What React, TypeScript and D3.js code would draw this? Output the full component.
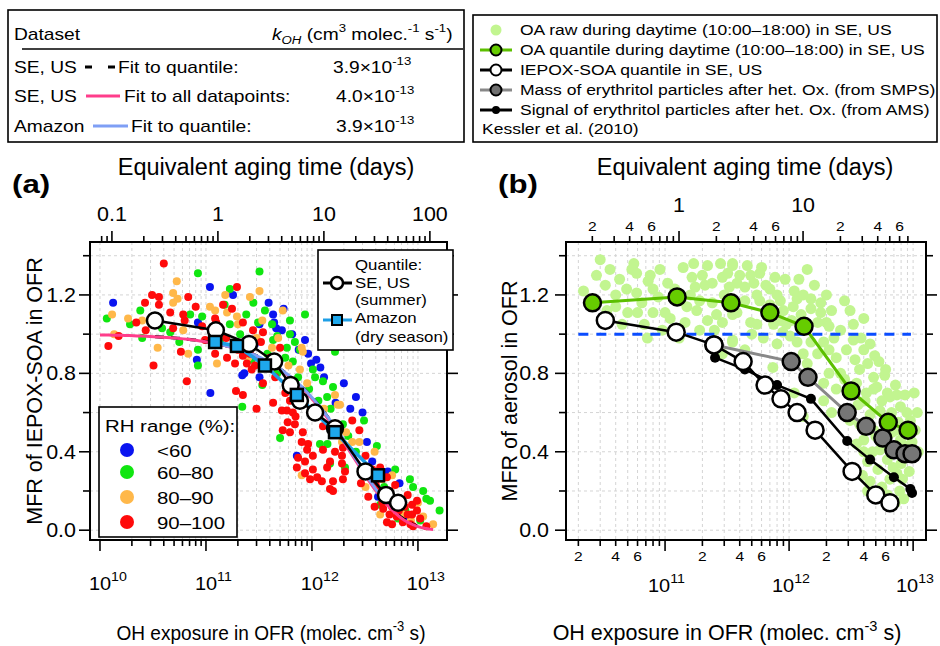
import * as d3 from "d3";

type Pt = [number, number];

const FONT = "'Liberation Sans', Arial, Helvetica, sans-serif";
const SX = 1.2; // the legend lettering is wider than plain Arial

const OH_CONC = 1.5e6; // molec. cm-3, used for the "equivalent aging time" axis
const SEC_PER_DAY = 86400;

// ---------- panel (a): IEPOX-SOA MFR vs OH exposure, by RH range ----------
const rhUnder60: Pt[] = [
  [1.33e10, 1.16], [1.09e11, 1.24], [8.4e10, 1.06], [3.9e11, 1.16], [3.2e11, 1.05], [8.2e10, 0.87],
  [1.1e11, 0.7], [2.2e11, 0.79], [2.3e11, 0.8], [3.2e11, 0.78], [4.6e11, 1.03], [5.2e11, 1.02],
  [5.4e11, 1.13], [8.6e11, 0.97], [9.2e11, 0.9], [1.1e12, 0.87], [1.2e12, 0.83], [1.67e12, 0.65],
  [7.2e11, 0.38], [3.7e12, 0.35], [4.2e12, 0.17], [6.7e12, 0.24], [7.3e12, 0.06], [2.0e12, 0.75],
  [2.6e12, 0.68], [3.0e12, 0.6], [1.3e12, 0.78], [2.9e11, 0.95], [1.8e11, 1.2], [4.3e11, 1.1],
  [6.5e11, 1.0], [7.5e11, 0.92], [2.3e12, 0.62], [3.3e12, 0.45], [5.2e12, 0.3], [4.4e11, 1.06],
  [9.8e11, 0.85],
];
const rh60to80: Pt[] = [
  [8.4e10, 1.31], [1.16e10, 1.08], [2.5e10, 0.98], [8.4e10, 0.92], [8.4e10, 0.84], [7.1e10, 1.1],
  [4.6e10, 1.01], [3.85e10, 1.03], [9.2e10, 1.09], [1.68e11, 1.05], [3.1e11, 1.06], [2.7e11, 0.87],
  [3.4e11, 0.74], [2.2e11, 0.63], [4.7e11, 0.8], [4.3e11, 0.97], [3.8e11, 0.9], [4.7e11, 0.99],
  [2.8e11, 1.16], [3.2e11, 1.32], [5.0e11, 0.47], [1.19e12, 0.44], [1.4e12, 0.44], [1.48e12, 0.34],
  [2.05e12, 0.32], [1.96e12, 0.54], [4.1e12, 0.43], [9.0e12, 0.22], [1.2e13, 0.16], [6.5e12, 0.06],
  [4.4e12, 0.13], [6.2e11, 1.0], [6.9e11, 0.96], [5.8e11, 0.93], [7.7e11, 0.92], [1.02e12, 0.82],
  [1.27e12, 0.76], [1.58e12, 0.73], [1.07e12, 0.78], [1.39e12, 0.68], [8.6e11, 1.1], [6.2e11, 1.07],
  [1.65e12, 0.91], [1.68e11, 1.23], [1.92e10, 1.05], [1.36e11, 0.97], [6.1e12, 0.31], [8.4e12, 0.26],
  [1.3e13, 0.15], [3.1e12, 0.56], [1.5e11, 1.15], [2.1e11, 1.0], [2.4e11, 1.1], [3.6e11, 1.12],
  [4.2e11, 1.05], [5.6e11, 0.88], [6.6e11, 0.86], [7.4e11, 0.78], [9.4e11, 0.72], [1.15e12, 0.66],
  [1.5e12, 0.62], [2.2e12, 0.48], [2.6e12, 0.4], [3.4e12, 0.3], [4.8e12, 0.22], [5.6e12, 0.16],
  [7.6e12, 0.1], [1.05e13, 0.05], [1.12e13, 0.2], [1.6e13, 0.1], [2.4e10, 1.12], [5.6e10, 0.96],
];
const rh80to90: Pt[] = [
  [5.3e10, 1.27], [4.9e10, 1.21], [5.4e10, 1.18], [4.9e10, 1.16], [1.84e10, 1.08], [2.5e10, 1.07],
  [1.36e10, 1.0], [3.5e10, 0.93], [6.1e10, 1.02], [1.09e11, 1.14], [1.22e11, 1.12], [1.58e11, 1.11],
  [1.96e11, 1.09], [2.6e11, 1.19], [2.0e11, 1.05], [1.27e11, 0.85], [2.5e11, 0.88], [4.2e11, 0.93],
  [1.84e12, 0.64], [2.8e12, 0.45], [2.4e12, 0.45], [1.92e12, 0.45], [8.0e11, 0.28], [3.9e12, 0.4],
  [5.7e12, 0.28], [1.12e13, 0.07], [1.39e13, 0.03], [4.4e12, 0.08], [6.1e12, 0.1], [8.0e11, 0.93],
  [8.2e11, 0.91], [1.65e12, 0.69], [1.75e12, 0.64], [3.4e11, 1.07], [5.3e11, 1.12], [1.52e11, 1.2],
  [6.8e12, 0.13], [4.9e12, 0.18], [7.7e11, 0.82], [3.2e11, 1.22], [1.35e11, 1.0], [2.2e11, 0.95],
  [3.0e11, 0.98], [4.8e11, 0.98], [6.0e11, 0.84], [9.0e11, 0.75], [1.3e12, 0.62], [2.1e12, 0.5],
  [3.2e12, 0.22], [4.6e12, 0.26], [7.2e12, 0.08], [8.6e12, 0.05], [1.0e13, 0.14], [1.3e10, 1.1],
  [6.8e10, 0.9],
];
const rh90to100: Pt[] = [
  [4.0e10, 1.36], [3.1e10, 1.2], [3.6e10, 1.19], [2.66e10, 1.16], [3.6e10, 1.15], [6.8e10, 1.19],
  [2.2e10, 1.06], [2.7e10, 1.02], [1.2e10, 0.94], [3.2e10, 0.84], [5.8e10, 0.91], [6.6e10, 0.76],
  [4.6e10, 1.11], [6.1e10, 1.1], [4.9e10, 1.03], [6.3e10, 1.07], [9.2e10, 1.04], [1.45e11, 1.15],
  [1.76e11, 1.13], [1.96e11, 1.24], [2.23e11, 1.06], [2.78e11, 1.02], [9.8e10, 0.97], [1.22e11, 0.9],
  [1.58e11, 0.88], [1.88e11, 0.85], [2.43e11, 0.85], [2.23e11, 0.89], [2.9e11, 0.84], [2.7e11, 0.82],
  [3.45e11, 0.75], [1.92e11, 0.71], [2.23e11, 0.69], [4.3e11, 0.65], [3.0e11, 0.62], [5.0e11, 0.93],
  [3.45e11, 1.01], [2.78e11, 0.94], [1.22e11, 1.08], [1.25e11, 1.06],
  [5.8e11, 0.61], [6.6e11, 0.6], [5.9e11, 0.55], [5.3e11, 0.51], [6.9e11, 0.54], [8.2e11, 0.5],
  [9.2e11, 0.44], [9.0e11, 0.41], [7.4e11, 0.37], [7.2e11, 0.32], [8.6e11, 0.35], [1.02e12, 0.31],
  [9.6e11, 0.26], [1.24e12, 0.25], [1.48e12, 0.21], [1.58e12, 0.25], [1.96e12, 0.26], [2.05e12, 0.3],
  [1.92e12, 0.34], [1.92e12, 0.38], [1.48e12, 0.35], [1.27e12, 0.41], [1.02e12, 0.38], [1.39e12, 0.32],
  [1.12e12, 0.27], [8.6e11, 0.29], [1.58e12, 0.2], [6.2e11, 0.5], [5.2e11, 0.61], [1.96e12, 0.42],
  [1.27e12, 0.53], [1.65e12, 0.4],
  [3.4e12, 0.17], [4.4e12, 0.32], [5.1e12, 0.27], [5.4e12, 0.2], [6.1e12, 0.23], [4.7e12, 0.11],
  [5.7e12, 0.12], [6.8e12, 0.15], [8.0e12, 0.18], [8.8e12, 0.13], [8.8e12, 0.08], [6.3e12, 0.07],
  [7.2e12, 0.04], [9.0e12, 0.02], [5.7e12, 0.03], [9.8e12, 0.1], [9.8e12, 0.15], [8.0e12, 0.08],
  [5.1e12, 0.17], [5.1e12, 0.04], [6.1e12, 0.15], [2.4e12, 0.56], [2.8e12, 0.51], [3.2e12, 0.38],
  [3.7e12, 0.31], [4.0e12, 0.23], [1.55e11, 0.98], [2.0e11, 0.92], [2.6e11, 0.9], [3.3e11, 0.96],
  [4.0e11, 0.88], [4.5e11, 0.78], [5.6e11, 0.7], [6.2e11, 0.66], [7.0e11, 0.58], [8.0e11, 0.45],
  [4.6e12, 0.14], [5.4e12, 0.08], [6.6e12, 0.1], [7.5e12, 0.12], [8.5e12, 0.03], [1.05e13, 0.06],
  [3.9e12, 0.12], [4.4e12, 0.2], [1.2e13, 0.02], [2.9e12, 0.24], [8.0e10, 1.14], [1.5e10, 0.99],
];
const seUsQuantile: Pt[] = [
  [3.3e10, 1.07], [1.24e11, 1.02], [2.55e11, 0.95], [4.4e11, 0.86], [6.3e11, 0.74], [7.7e11, 0.66],
  [1.07e12, 0.6], [1.65e12, 0.52], [3.2e12, 0.3], [5.0e12, 0.18], [6.5e12, 0.14],
];
const amazonQuantile: Pt[] = [
  [1.22e11, 0.96], [1.96e11, 0.94], [3.6e11, 0.84], [7.2e11, 0.69], [1.65e12, 0.5], [4.2e12, 0.28],
];
// exponential fits, MFR = exp(-kOH * exposure), with the range each one is drawn over
const fitNames = ["SE, US", "SE, US", "Amazon"];
const fitLabels = ["Fit to quantile:", "Fit to all datapoints:", "Fit to quantile:"];
const fitK = [3.9e-13, 4.0e-13, 3.9e-13];
const fitKText = ["3.9", "4.0", "3.9"];
const fitRange: Pt[] = [[3.3e10, 9.8e12], [1.0e10, 1.39e13], [1.22e11, 4.2e12]];

const rhLabels = ["<60", "60–80", "80–90", "90–100"];
const rhColors = ["#0a14f0", "#10e610", "#ffb84a", "#ff0a0a"];

// ---------- panel (b): aerosol MFR vs OH exposure ----------
const oaRaw: Pt[] = [
  [3.0e10, 1.38], [5.6e10, 1.36], [5.4e10, 1.33], [5.9e10, 1.31], [7.3e10, 1.27], [4.0e10, 1.2],
  [4.9e10, 1.23], [5.9e10, 1.21], [6.5e10, 1.16], [8.0e10, 1.23], [8.8e10, 1.19], [5.0e10, 1.11],
  [6.0e10, 1.11], [8.0e10, 1.11], [1.0e11, 1.11], [1.1e11, 1.08], [1.4e11, 1.34], [1.7e11, 1.36],
  [2.2e11, 1.35], [2.8e11, 1.36], [3.5e11, 1.35], [1.65e11, 1.29], [2.1e11, 1.25], [2.4e11, 1.26],
  [2.9e11, 1.29], [3.2e11, 1.31], [1.5e11, 1.14], [1.8e11, 1.12], [2.2e11, 1.07], [2.9e11, 1.06],
  [3.5e11, 1.1], [7.2e10, 0.98], [1.3e11, 0.98], [3.5e11, 0.96], [4.0e10, 1.14],
  [3.5e11, 1.36], [6.0e11, 1.34], [5.8e11, 1.31], [1.4e12, 1.33], [7.7e11, 1.29], [9.3e11, 1.28],
  [3.8e11, 1.26], [4.4e11, 1.24], [7.0e11, 1.23], [1.1e12, 1.22], [1.16e12, 1.18], [1.3e12, 1.2],
  [1.5e12, 1.18], [1.8e12, 1.16], [1.08e12, 1.14], [1.5e12, 1.13], [1.8e12, 1.11], [2.0e12, 1.06],
  [2.1e12, 1.04], [3.8e11, 1.11], [4.9e11, 1.06], [8.5e11, 1.07], [8.9e11, 1.01], [1.02e12, 0.99],
  [1.16e12, 0.96], [1.5e12, 0.96], [1.9e12, 0.96], [2.1e12, 0.92], [4.0e12, 1.08], [5.0e11, 1.0],
  [6.2e11, 0.98], [3.5e11, 0.97], [4.0e12, 0.92], [4.3e12, 0.85], [3.7e12, 0.82], [4.8e12, 0.78],
  [5.1e12, 0.73], [6.2e12, 0.7], [7.4e12, 0.69], [1.9e12, 0.75], [2.1e12, 0.8], [7.4e11, 0.83],
  [1.3e12, 0.9], [2.4e12, 0.72],
  [4.8e12, 0.72], [6.5e12, 0.68], [7.9e12, 0.63], [8.9e12, 0.6], [4.8e12, 0.51], [4.0e12, 0.4],
  [4.3e12, 0.35], [6.2e12, 0.36], [6.9e12, 0.32], [7.4e12, 0.29], [8.2e12, 0.26], [4.5e12, 0.25],
  [4.3e12, 0.2], [7.2e12, 0.14], [1.3e12, 0.58], [4.0e12, 0.46],
  [5.4e12, 0.61], [5.9e12, 0.56], [7.2e12, 0.51], [7.9e12, 0.46], [5.4e12, 0.41], [8.6e12, 0.43],
  [5.2e12, 0.31], [6.5e12, 0.26], [9.5e12, 0.56], [1.04e13, 0.51], [3.6e12, 0.64], [3.1e12, 0.56],
  [2.8e12, 0.77], [3.4e12, 0.87], [2.6e12, 1.02], [2.8e12, 1.17], [3.3e12, 0.97], [4.9e12, 0.89],
  [4.1e12, 0.66], [5.9e12, 0.79], [7.2e12, 0.74], [8.6e12, 0.69], [4.5e12, 0.59], [3.7e12, 0.54],
  [9.1e10, 1.33], [1.9e11, 1.17], [4.4e11, 1.17], [5.8e11, 1.17], [7.0e11, 1.15], [8.5e11, 1.17],
  [1.9e11, 1.02], [2.5e11, 1.02], [4.4e11, 0.92], [2.5e10, 1.17], [3.3e10, 1.25], [4.3e10, 1.28],
  [1.2e11, 1.23], [1.6e11, 1.2], [4.9e11, 1.3],
  [2.2e10, 1.22], [2.8e10, 1.3], [3.6e10, 1.33], [4.5e10, 1.05], [3.4e10, 1.12], [6.8e10, 1.05],
  [9.5e10, 1.02], [7.6e10, 1.3], [1.05e11, 1.26], [1.3e11, 1.17], [1.45e11, 1.06], [1.75e11, 1.24],
  [2.0e11, 1.3], [2.4e11, 1.16], [2.6e11, 1.1], [3.0e11, 1.2], [3.3e11, 1.24], [4.0e11, 1.3],
  [4.6e11, 1.35], [5.2e11, 1.26], [5.5e11, 1.2], [6.5e11, 1.25], [6.6e11, 1.1], [7.5e11, 1.05],
  [8.0e11, 1.2], [8.0e11, 0.95], [9.0e11, 1.12], [9.5e11, 1.05], [1.05e12, 1.07], [1.2e12, 1.28],
  [1.25e12, 1.1], [1.35e12, 1.02], [1.6e12, 1.25], [1.7e12, 1.06], [1.7e12, 0.9], [2.0e12, 1.2],
  [2.2e12, 1.12], [2.3e12, 0.98], [2.4e12, 0.88], [2.6e12, 0.8], [2.9e12, 0.92], [3.1e12, 1.12],
  [3.3e12, 1.05], [3.5e12, 0.75], [3.8e12, 0.98], [4.2e12, 0.7], [4.5e12, 0.95], [5.3e12, 0.86],
  [5.6e12, 0.66], [6.0e12, 0.82], [6.7e12, 0.6], [6.8e12, 0.5], [7.6e12, 0.55], [8.3e12, 0.5],
  [9.0e12, 0.38], [9.3e12, 0.3], [8.0e12, 0.34], [6.0e12, 0.44], [5.0e12, 0.48], [3.5e12, 0.44],
  [4.7e12, 0.4], [5.6e12, 0.22], [6.2e12, 0.18], [7.8e12, 0.2], [8.4e12, 0.16], [3.9e12, 0.28],
  [9.8e12, 0.45], [1.1e13, 0.4], [1.08e13, 0.6], [1.02e13, 0.7], [2.9e11, 0.9], [5.5e11, 1.05],
  [1.4e12, 0.85], [1.9e12, 0.66], [2.2e12, 0.6], [1.1e12, 0.7],
];
const oaQuantile: Pt[] = [
  [2.6e10, 1.16], [1.25e11, 1.19], [3.4e11, 1.16], [7.0e11, 1.11], [1.32e12, 1.04], [3.16e12, 0.71],
  [6.3e12, 0.55], [9.1e12, 0.51],
];
const iepoxQuantile: Pt[] = [
  [3.3e10, 1.07], [1.23e11, 1.01], [2.48e11, 0.945], [4.26e11, 0.86], [6.4e11, 0.74], [8.6e11, 0.67],
  [1.16e12, 0.6], [1.62e12, 0.51], [3.22e12, 0.3], [5.0e12, 0.18], [6.5e12, 0.14],
];
const smpsMass: Pt[] = [
  [2.48e11, 0.945], [1.04e12, 0.86], [1.42e12, 0.78], [2.94e12, 0.6], [4.18e12, 0.53], [5.7e12, 0.47],
  [7.0e12, 0.41], [8.6e12, 0.39], [9.8e12, 0.39],
];
const amsSignal: Pt[] = [
  [2.53e11, 0.88], [4.4e11, 0.82], [8.0e11, 0.74], [1.5e12, 0.67], [2.94e12, 0.455], [4.5e12, 0.36],
  [7.0e12, 0.27], [9.5e12, 0.21], [9.8e12, 0.19],
];
const unityLine: Pt[] = [[2.0e10, 1.0], [9.6e12, 1.0]];

const rightLegend = [
  "OA raw during daytime (10:00–18:00) in SE, US",
  "OA quantile during daytime (10:00–18:00) in SE, US",
  "IEPOX-SOA quantile in SE, US",
  "Mass of erythritol particles after het. Ox. (from SMPS)",
  "Signal of erythritol particles after het. Ox. (from AMS)",
];

// ---------- ticks ----------
const yTickValues = [0, 0.2, 0.4, 0.6, 0.8, 1.0, 1.2, 1.4];
const yTickLabels = ["0.0", "0.4", "0.8", "1.2"];
const aTopLabels = [0.1, 1, 10, 100];
const aBottomExponents = [10, 11, 12, 13];
const bBottomExponents = [11, 12, 13];
const bTopMajor = [1, 10];
const bMinorLabelDigits = [2, 4, 6];

// ---------- layout ----------
const frameA = { left: 90, right: 447, top: 242, bottom: 540 };
const frameB = { left: 566, right: 926, top: 242, bottom: 540 };

const xA = d3.scaleLog().domain([8.05e9, 1.88e13]).range([frameA.left, frameA.right]);
const xB = d3.scaleLog().domain([1.59e10, 1.27e13]).range([frameB.left, frameB.right]);
const y = d3.scaleLinear().domain([-0.05, 1.47]).range([540, 242]);
const toDays = (e: number) => e / (OH_CONC * SEC_PER_DAY);
const daysA = d3.scaleLog().domain(xA.domain().map(toDays)).range(xA.range());
const daysB = d3.scaleLog().domain(xB.domain().map(toDays)).range(xB.range());

const isDecade = (v: number) => Math.abs(Math.log10(v) - Math.round(Math.log10(v))) < 1e-6;
const leadDigit = (v: number) => Math.round(v / Math.pow(10, Math.floor(Math.log10(v) + 1e-9)));

function T({ x, y: ty, size, sx = SX, anchor = "start", weight, italic, fill = "#000", rotate, children }: any) {
  const tf = rotate
    ? `translate(${x},${ty}) rotate(-90) scale(1,${sx})`
    : `translate(${x},${ty}) scale(${sx},1)`;
  return (
    <text
      transform={tf}
      fontSize={size}
      fontFamily={FONT}
      textAnchor={anchor}
      fontWeight={weight}
      fontStyle={italic ? "italic" : undefined}
      fill={fill}
    >
      {children}
    </text>
  );
}

function Pow({ x, y: ty, base = "10", exp, size, supSize, sx = 1.05, shift = 0 }: any) {
  // base centred near x, exponent hanging to the right
  const w = base.length * 0.556 * size * sx;
  return (
    <T x={x - w / 2 + shift} y={ty} size={size} sx={sx}>
      {base}
      <tspan dy={-size * 0.45} fontSize={supSize}>
        {exp}
      </tspan>
    </T>
  );
}

function Grid({ f, x, ticks }: any) {
  const grid = "#d4d4d4";
  return (
    <g>
      {ticks.map((t: number, i: number) => (
        <line key={"gx" + i} x1={x(t)} x2={x(t)} y1={f.top} y2={f.bottom} stroke={grid} strokeDasharray="3,3" />
      ))}
      {yTickValues.map((v, i) => (
        <line key={"gy" + i} x1={f.left} x2={f.right} y1={y(v)} y2={y(v)} stroke={grid} strokeDasharray="3,3" />
      ))}
    </g>
  );
}

function FrameAxes({ f, x, ticks, top, topTicks }: any) {
  return (
    <g stroke="#000" strokeWidth={1.6}>
      <rect x={f.left} y={f.top} width={f.right - f.left} height={f.bottom - f.top} fill="none" strokeWidth={2} />
      {yTickValues.map((v, i) => {
        const major = i % 2 === 0;
        const len = major ? 11 : 7;
        return (
          <g key={"yt" + i}>
            <line x1={f.left - len} x2={f.left} y1={y(v)} y2={y(v)} />
            <line x1={f.right} x2={f.right + len} y1={y(v)} y2={y(v)} />
          </g>
        );
      })}
      {ticks.map((t: number, i: number) => {
        const len = isDecade(t) ? 11 : 6;
        return <line key={"xt" + i} x1={x(t)} x2={x(t)} y1={f.bottom} y2={f.bottom + len} />;
      })}
      {topTicks.map((d: number, i: number) => {
        const len = isDecade(d) ? 11 : 6;
        return <line key={"tt" + i} x1={top(d)} x2={top(d)} y1={f.top} y2={f.top - len} />;
      })}
    </g>
  );
}

const lineGen = (x: any) =>
  d3
    .line<Pt>()
    .x((d) => x(d[0]))
    .y((d) => y(d[1]));

function fitPoints(k: number, range: Pt): Pt[] {
  const n = 80;
  return d3.range(n + 1).map((i) => {
    const e = range[0] * Math.pow(range[1] / range[0], i / n);
    return [e, Math.exp(-k * e)] as Pt;
  });
}

export default function App() {
  const ticksA = xA.ticks().filter((t) => t >= 1e10 && t <= 1.88e13);
  const ticksB = xB.ticks().filter((t) => t >= 2e10);
  const topTicksA = daysA.ticks().filter((d) => d >= 0.08);
  const topTicksB = daysB.ticks().filter((d) => d >= 0.2 && d <= 70);
  const la = lineGen(xA);
  const lb = lineGen(xB);
  const fitColors = ["#000", "#ff3d8b", "#7f9ff5"];
  const rhSets = [rhUnder60, rh60to80, rh80to90, rh90to100];

  const xTitle = (cx: number, size: number, sx: number) => (
    <T x={cx} y={640} size={size} sx={sx} anchor="middle">
      OH exposure in OFR (molec. cm
      <tspan dy={-9} fontSize={size * 0.68}>
        -3
      </tspan>
      <tspan dy={9}> s)</tspan>
    </T>
  );

  return (
    <svg width={940} height={646} style={{ position: "absolute", left: 0, top: 0, background: "#fff" }}>
      <rect width={940} height={646} fill="#fff" />

      {/* ---------- top-left table legend ---------- */}
      <rect x={8} y={10} width={456} height={132} fill="#fff" stroke="#000" strokeWidth={1.6} />
      <T x={14} y={40} size={16}>
        Dataset
      </T>
      <T x={272} y={40} size={16}>
        <tspan fontStyle="italic">k</tspan>
        <tspan fontStyle="italic" fontSize={11} dy={4}>
          OH
        </tspan>
        <tspan dy={-4}> (cm</tspan>
        <tspan fontSize={11} dy={-8}>
          3
        </tspan>
        <tspan dy={8}> molec.</tspan>
        <tspan fontSize={11} dy={-8}>
          -1
        </tspan>
        <tspan dy={8}> s</tspan>
        <tspan fontSize={11} dy={-8}>
          -1
        </tspan>
        <tspan dy={8}>)</tspan>
      </T>
      <line x1={22} x2={463} y1={49} y2={49} stroke="#000" strokeWidth={1.6} />
      {fitNames.map((nm, i) => {
        const by = [73, 102, 132][i];
        const seg = [[85, 115], [86, 120], [93, 128]][i];
        const lx = [118, 124, 131][i];
        const vx = [333, 336, 336][i];
        return (
          <g key={"fit" + i}>
            <T x={14} y={by} size={16}>
              {nm}
            </T>
            <line
              x1={seg[0]}
              x2={seg[1]}
              y1={by - 6}
              y2={by - 6}
              stroke={fitColors[i]}
              strokeWidth={3}
              strokeDasharray={i === 0 ? "7,16" : undefined}
            />
            <T x={lx} y={by} size={16}>
              {fitLabels[i]}
            </T>
            <T x={vx} y={by} size={16}>
              {fitKText[i]}×10
              <tspan dy={-8} fontSize={11}>
                -13
              </tspan>
            </T>
          </g>
        );
      })}

      {/* ---------- top-right legend ---------- */}
      <rect x={473} y={15} width={464} height={127} fill="#fff" stroke="#000" strokeWidth={1.6} />
      {rightLegend.map((txt, i) => {
        const by = 35 + i * 20;
        const cy = by - 5;
        return (
          <g key={"rl" + i}>
            {i === 0 && <circle cx={496} cy={cy} r={5.5} fill="#c2f590" />}
            {i === 1 && (
              <>
                <line x1={480} x2={512} y1={cy} y2={cy} stroke="#5cbf00" strokeWidth={3} />
                <circle cx={496} cy={cy} r={5.5} fill="#66cc00" stroke="#000" strokeWidth={2} />
              </>
            )}
            {i === 2 && (
              <>
                <line x1={480} x2={512} y1={cy} y2={cy} stroke="#000" strokeWidth={3} />
                <circle cx={496} cy={cy} r={5.5} fill="#fff" stroke="#000" strokeWidth={2} />
              </>
            )}
            {i === 3 && (
              <>
                <line x1={480} x2={512} y1={cy} y2={cy} stroke="#888" strokeWidth={3} />
                <circle cx={496} cy={cy} r={5.5} fill="#707070" stroke="#000" strokeWidth={2} />
              </>
            )}
            {i === 4 && (
              <>
                <line x1={480} x2={512} y1={cy} y2={cy} stroke="#000" strokeWidth={3} />
                <circle cx={496} cy={cy} r={4} fill="#000" />
              </>
            )}
            <T x={520} y={by} size={14.6}>
              {txt}
            </T>
          </g>
        );
      })}
      <T x={482} y={134} size={14.6}>
        Kessler et al. (2010)
      </T>

      {/* ---------- panel (a) ---------- */}
      <T x={12} y={193} size={26} weight="bold">
        (a)
      </T>
      <T x={266} y={175} size={23.5} sx={1} anchor="middle">
        Equivalent aging time (days)
      </T>
      {aTopLabels.map((d, i) => (
        <T key={"atl" + i} x={daysA(d)} y={221} size={19.5} sx={1.1} anchor="middle">
          {String(d)}
        </T>
      ))}
      <Grid f={frameA} x={xA} ticks={ticksA} />
      <g>
        {rhSets.map((set, si) =>
          set.map((d, i) => <circle key={`rh${si}-${i}`} cx={xA(d[0])} cy={y(d[1])} r={4} fill={rhColors[si]} />),
        )}
      </g>
      {fitK.map((k, i) => (
        <path
          key={"fc" + i}
          d={la(fitPoints(k, fitRange[i])) || ""}
          fill="none"
          stroke={fitColors[i]}
          strokeWidth={i === 0 ? 3.2 : 3}
          strokeDasharray={i === 0 ? "9,7" : undefined}
        />
      ))}
      <path d={la(amazonQuantile) || ""} fill="none" stroke="#1e9fe6" strokeWidth={3.5} />
      <path d={la(seUsQuantile) || ""} fill="none" stroke="#000" strokeWidth={2.5} />
      {seUsQuantile.map((d, i) => (
        <circle key={"sq" + i} cx={xA(d[0])} cy={y(d[1])} r={8} fill="#fff" stroke="#000" strokeWidth={2.5} />
      ))}
      {amazonQuantile.map((d, i) => (
        <rect
          key={"aq" + i}
          x={xA(d[0]) - 6}
          y={y(d[1]) - 6}
          width={12}
          height={12}
          fill="#1ea8ec"
          stroke="#000"
          strokeWidth={2.5}
        />
      ))}
      <FrameAxes f={frameA} x={xA} ticks={ticksA} top={daysA} topTicks={topTicksA} />
      {yTickLabels.map((s, i) => (
        <T key={"ayl" + i} x={76} y={y(i * 0.4) + 7} size={19.5} sx={1.1} anchor="end">
          {s}
        </T>
      ))}
      {aBottomExponents.map((p, i) => (
        <Pow key={"abl" + i} x={xA(Math.pow(10, p))} y={590} exp={String(p)} size={19} supSize={13.5} />
      ))}
      {xTitle(271, 20.5, 0.93)}
      <T x={42} y={391} size={21.5} sx={1.05} anchor="middle" rotate>
        MFR of IEPOX-SOA in OFR
      </T>

      {/* quantile legend in (a) */}
      <rect x={318} y={250} width={135} height={100} fill="#fff" stroke="#000" strokeWidth={1.6} />
      <T x={355} y={270} size={14}>
        Quantile:
      </T>
      <line x1={323} x2={352} y1={283} y2={283} stroke="#000" strokeWidth={3} />
      <circle cx={337} cy={283} r={6} fill="#fff" stroke="#000" strokeWidth={2.5} />
      <T x={355} y={288} size={14}>
        SE, US
      </T>
      <T x={355} y={305} size={14}>
        (summer)
      </T>
      <line x1={323} x2={352} y1={320} y2={320} stroke="#1e9fe6" strokeWidth={3} />
      <rect x={332} y={315} width={10} height={10} fill="#1ea8ec" stroke="#000" strokeWidth={2} />
      <T x={355} y={323} size={14}>
        Amazon
      </T>
      <T x={355} y={342} size={14}>
        (dry season)
      </T>

      {/* RH legend in (a) */}
      <rect x={99} y={407} width={138} height={130} fill="#fff" stroke="#000" strokeWidth={1.6} />
      <T x={105} y={432} size={17}>
        RH range (%):
      </T>
      {rhLabels.map((s, i) => {
        const cy = [450, 472, 497, 522][i];
        return (
          <g key={"rhl" + i}>
            <circle cx={127} cy={cy} r={7} fill={rhColors[i]} />
            <T x={157} y={cy + 7} size={17}>
              {s}
            </T>
          </g>
        );
      })}

      {/* ---------- panel (b) ---------- */}
      <T x={498} y={193} size={26} weight="bold">
        (b)
      </T>
      <T x={745} y={175} size={23.5} sx={1} anchor="middle">
        Equivalent aging time (days)
      </T>
      {bTopMajor.map((d, i) => (
        <T key={"btm" + i} x={daysB(d)} y={212} size={19.5} sx={1.1} anchor="middle">
          {String(d)}
        </T>
      ))}
      {topTicksB
        .filter((d) => bMinorLabelDigits.includes(leadDigit(d)) && !isDecade(d))
        .map((d, i) => (
          <T key={"btn" + i} x={daysB(d)} y={231} size={13} anchor="middle">
            {String(leadDigit(d))}
          </T>
        ))}
      <Grid f={frameB} x={xB} ticks={ticksB} />
      <g>
        {oaRaw.map((d, i) => (
          <circle key={"raw" + i} cx={xB(d[0])} cy={y(d[1])} r={5.5} fill="#c2f590" />
        ))}
      </g>
      <path d={lb(unityLine) || ""} fill="none" stroke="#0a4cff" strokeWidth={3} strokeDasharray="10,8" />
      <path d={lb(oaQuantile) || ""} fill="none" stroke="#5cbf00" strokeWidth={3} />
      <path d={lb(smpsMass) || ""} fill="none" stroke="#888" strokeWidth={3} />
      <path d={lb(amsSignal) || ""} fill="none" stroke="#000" strokeWidth={2.5} />
      <path d={lb(iepoxQuantile) || ""} fill="none" stroke="#000" strokeWidth={2.5} />
      {amsSignal.map((d, i) => (
        <circle key={"ams" + i} cx={xB(d[0])} cy={y(d[1])} r={5} fill="#000" />
      ))}
      {smpsMass.map((d, i) => (
        <circle key={"smps" + i} cx={xB(d[0])} cy={y(d[1])} r={8.5} fill="#767676" stroke="#000" strokeWidth={2.5} />
      ))}
      {iepoxQuantile.map((d, i) => (
        <circle key={"iq" + i} cx={xB(d[0])} cy={y(d[1])} r={8.5} fill="#fff" stroke="#000" strokeWidth={2.5} />
      ))}
      {oaQuantile.map((d, i) => (
        <circle key={"oq" + i} cx={xB(d[0])} cy={y(d[1])} r={8.5} fill="#66cc00" stroke="#000" strokeWidth={2.5} />
      ))}
      <FrameAxes f={frameB} x={xB} ticks={ticksB} top={daysB} topTicks={topTicksB} />
      {yTickLabels.map((s, i) => (
        <T key={"byl" + i} x={549} y={y(i * 0.4) + 7} size={19.5} sx={1.1} anchor="end">
          {s}
        </T>
      ))}
      {ticksB
        .filter((t) => bMinorLabelDigits.includes(leadDigit(t)) && !isDecade(t))
        .map((t, i) => (
          <T key={"bbn" + i} x={xB(t)} y={561} size={13} anchor="middle">
            {String(leadDigit(t))}
          </T>
        ))}
      {bBottomExponents.map((p, i) => (
        <Pow key={"bbl" + i} x={xB(Math.pow(10, p))} y={592} exp={String(p)} size={19} supSize={13.5} shift={-6} />
      ))}
      {xTitle(727, 21.5, 1)}
      <T x={517} y={391} size={21.5} sx={1.05} anchor="middle" rotate>
        MFR of aerosol in OFR
      </T>
    </svg>
  );
}
